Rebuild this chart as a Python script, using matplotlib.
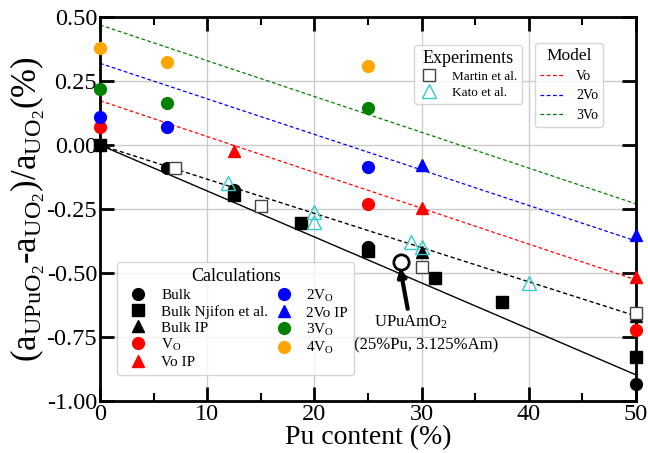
import matplotlib
matplotlib.use("Agg")
import matplotlib.pyplot as plt
import matplotlib.ticker as mticker

plt.rcParams["font.family"] = ["Liberation Serif", "DejaVu Serif"]
plt.rcParams["mathtext.fontset"] = "custom"
plt.rcParams["mathtext.rm"] = "Liberation Serif"
plt.rcParams["mathtext.it"] = "Liberation Serif:italic"
plt.rcParams["mathtext.bf"] = "Liberation Serif:bold"

# ── data ──────────────────────────────────────────────────────────────────────
bulk_x = [0, 6.25, 12.5, 25, 50]
bulk_y = [0.0, -0.09, -0.175, -0.40, -0.935]
njifon_x = [0, 12.5, 18.75, 25, 31.25, 37.5, 50]
njifon_y = [0.0, -0.195, -0.303, -0.415, -0.52, -0.612, -0.83]
bulk_ip_x = [30, 50]
bulk_ip_y = [-0.417, -0.667]
vo_x = [0, 25, 50]
vo_y = [0.072, -0.232, -0.723]
vo_ip_x = [12.5, 30, 50]
vo_ip_y = [-0.022, -0.247, -0.517]
v2_x = [0, 6.25, 25]
v2_y = [0.108, 0.072, -0.087]
v2_ip_x = [30, 50]
v2_ip_y = [-0.08, -0.352]
v3_x = [0, 6.25, 25]
v3_y = [0.218, 0.163, 0.143]
v4_x = [0, 6.25, 25]
v4_y = [0.378, 0.323, 0.309]

martin_x = [7, 15, 30, 50]
martin_y = [-0.091, -0.238, -0.475, -0.655]
kato_x = [11.9, 20, 20, 29, 30, 40]
kato_y = [-0.147, -0.26, -0.30, -0.38, -0.40, -0.54]

upuam_x, upuam_y = 28.1, -0.456

# fitted lines (endpoints at 0 % and 50 % Pu)
line_x = [0, 50]
fit_bulk = [0.0, -0.898]
fit_exp = [0.0, -0.668]
model_vo = [0.173, -0.527]
model_2vo = [0.319, -0.375]
model_3vo = [0.469, -0.23]

# ── plot ──────────────────────────────────────────────────────────────────────
fig = plt.figure(figsize=(6.48, 4.53), dpi=100)
ax = fig.add_axes([0.1543, 0.1148, 0.8272, 0.8477])

ax.grid(True, color="#cccccc", linewidth=1)
ax.set_axisbelow(True)

dash = (0, (3, 2))
ax.plot(line_x, fit_bulk, color="black", lw=1.0)
ax.plot(line_x, fit_exp, color="black", lw=1.0, ls=dash)
h_m1, = ax.plot(line_x, model_vo, color="red", lw=0.9, ls=dash, label="Vo")
h_m2, = ax.plot(line_x, model_2vo, color="blue", lw=0.9, ls=dash, label="2Vo")
h_m3, = ax.plot(line_x, model_3vo, color="green", lw=0.9, ls=dash, label="3Vo")

ms = 8.5
kw = dict(ls="none", clip_on=False, zorder=5)
h_bulk, = ax.plot(bulk_x, bulk_y, "o", color="black", ms=ms, label="Bulk", **kw)
h_nj, = ax.plot(njifon_x, njifon_y, "s", color="black", ms=ms - 0.5, label="Bulk Njifon et al.", **kw)
h_bip, = ax.plot(bulk_ip_x, bulk_ip_y, "^", color="black", ms=ms, label="Bulk IP", **kw)
h_vo, = ax.plot(vo_x, vo_y, "o", color="red", ms=ms, label=r"V$_{\rm O}$", **kw)
h_voip, = ax.plot(vo_ip_x, vo_ip_y, "^", color="red", ms=ms, label="Vo IP", **kw)
h_2v, = ax.plot(v2_x, v2_y, "o", color="blue", ms=ms, label=r"2V$_{\rm O}$", **kw)
h_2vip, = ax.plot(v2_ip_x, v2_ip_y, "^", color="blue", ms=ms, label="2Vo IP", **kw)
h_3v, = ax.plot(v3_x, v3_y, "o", color="green", ms=ms, label=r"3V$_{\rm O}$", **kw)
h_4v, = ax.plot(v4_x, v4_y, "o", color="orange", ms=ms, label=r"4V$_{\rm O}$", **kw)

h_mar, = ax.plot(martin_x, martin_y, "s", mfc="white", mec="#444444", mew=1.0,
                 ms=ms, label="Martin et al.", **kw)
h_kato, = ax.plot(kato_x, kato_y, "^", mfc="none", mec="#33cccc", mew=1.0,
                  ms=ms + 1, label="Kato et al.", **kw)

ax.plot([upuam_x], [upuam_y], "o", mfc="white", mec="black", mew=2, ms=11, zorder=6)
ax.annotate("", xy=(28.0, -0.48), xytext=(28.7, -0.64),
            arrowprops=dict(arrowstyle="-|>", color="black", lw=3,
                            mutation_scale=12, shrinkA=0, shrinkB=0), zorder=7)
ax.text(29.0, -0.691, "UPuAmO$_2$", ha="center", va="center", fontsize=12)
ax.text(30.4, -0.781, "(25%Pu, 3.125%Am)", ha="center", va="center", fontsize=12)

# axes styling
ax.set_xlim(0, 50)
ax.set_ylim(-1.0, 0.5)
ax.xaxis.set_major_locator(mticker.MultipleLocator(10))
ax.xaxis.set_minor_locator(mticker.MultipleLocator(5))
ax.yaxis.set_major_locator(mticker.MultipleLocator(0.25))
ax.yaxis.set_major_formatter(mticker.FormatStrFormatter("%.2f"))
ax.tick_params(which="major", direction="in", length=10, width=2,
               top=True, right=True, labelsize=17.5, pad=2)
ax.tick_params(which="minor", direction="in", length=6, width=1.5,
               top=True, right=True)
for sp in ax.spines.values():
    sp.set_linewidth(2)

ax.set_xlabel("Pu content (%)", fontsize=20, labelpad=0)
ax.set_ylabel(r"(a$_{\rm UPuO_2}$-a$_{\rm UO_2}$)/a$_{\rm UO_2}$(%)", fontsize=25, labelpad=0)

# legends
leg_calc = ax.legend(handles=[h_bulk, h_nj, h_bip, h_vo, h_voip, h_2v, h_2vip, h_3v, h_4v],
                     ncol=2, title="Calculations", fontsize=11, title_fontsize=13,
                     loc="lower left", bbox_to_anchor=(0.0317, 0.0677), borderaxespad=0,
                     handlelength=2.0, handletextpad=0.5, columnspacing=0.0,
                     labelspacing=0.15, borderpad=0.4, framealpha=0.8)
ax.add_artist(leg_calc)

leg_exp = ax.legend(handles=[h_mar, h_kato], title="Experiments", fontsize=9.5,
                    title_fontsize=13, loc="upper left", bbox_to_anchor=(0.586, 0.927),
                    borderaxespad=0, handlelength=1.5, handletextpad=1.0,
                    labelspacing=0.3, borderpad=0.35, framealpha=0.8)
ax.add_artist(leg_exp)

ax.legend(handles=[h_m1, h_m2, h_m3], title="Model", fontsize=10, title_fontsize=12.5,
          loc="upper left", bbox_to_anchor=(0.8116, 0.932), borderaxespad=0,
          handlelength=1.8, handletextpad=0.8, labelspacing=0.45, borderpad=0.35,
          framealpha=0.8)

fig.savefig("out.png", dpi=100)
